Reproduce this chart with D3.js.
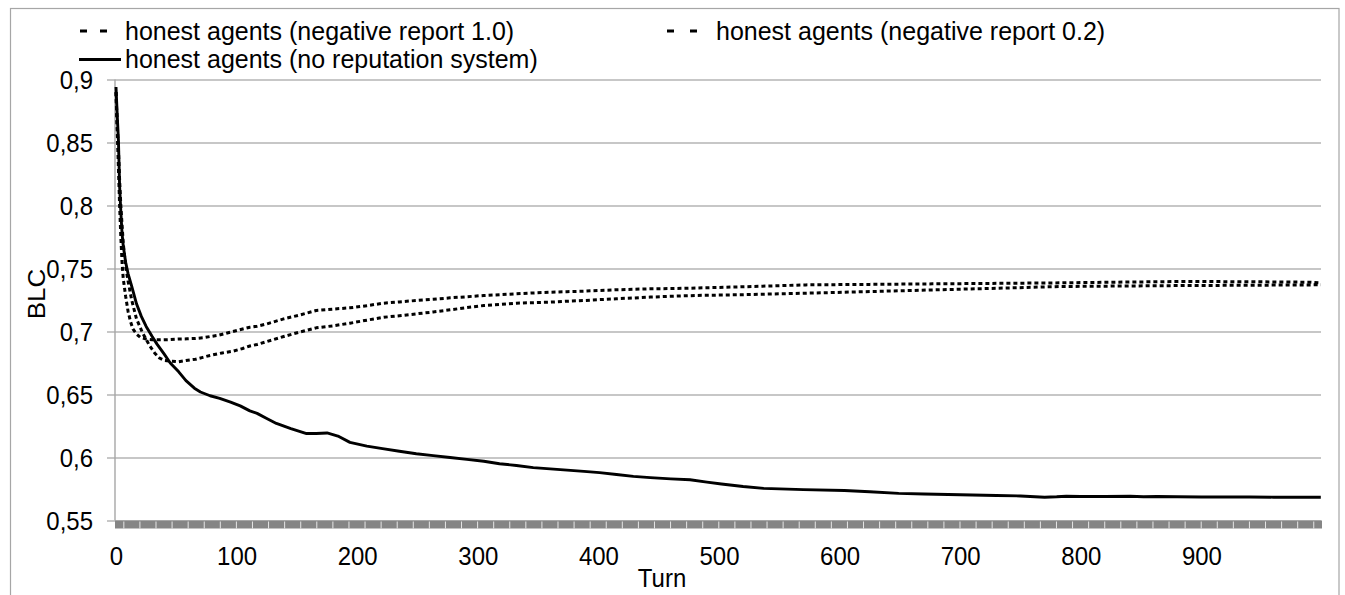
<!DOCTYPE html>
<html>
<head>
<meta charset="utf-8">
<script src="https://cdn.jsdelivr.net/npm/d3@7"></script>
<style>
  html, body { margin: 0; padding: 0; background: #fff; }
  svg text { font-family: "Liberation Sans", Arial, sans-serif; fill: #000; }
</style>
</head>
<body>
<svg id="chart" width="1345" height="595"></svg>
<script>
// ---------------- data ----------------
const yTicks = [0.55, 0.6, 0.65, 0.7, 0.75, 0.8, 0.85, 0.9];
const yTickLabels = ["0,55", "0,6", "0,65", "0,7", "0,75", "0,8", "0,85", "0,9"];
const xTicks = [0, 100, 200, 300, 400, 500, 600, 700, 800, 900];
const xTickLabels = ["0", "100", "200", "300", "400", "500", "600", "700", "800", "900"];

const seriesNames = [
  "honest agents (negative report 1.0)",
  "honest agents (negative report 0.2)",
  "honest agents (no reputation system)"
];

// honest agents (negative report 1.0)
const turnsA = [0,1,2,3,4,5,6,7,8,10,12,14,17,20,25,30,37,45,52,59,66,72,78,85,97,105,111,117,125,139,152,166,180,194,208,222,235,249,263,277,291,305,318,332,346,360,374,388,401,415,429,443,462,481,520,572,625,677,730,782,835,887,940,991,999];
const valuesA = [0.89,0.86,0.83,0.80,0.775,0.755,0.742,0.735,0.728,0.716,0.708,0.702,0.698,0.6955,0.694,0.6935,0.6934,0.6936,0.694,0.6942,0.6945,0.695,0.696,0.697,0.700,0.702,0.7034,0.7042,0.706,0.710,0.713,0.7167,0.7178,0.7188,0.7205,0.7225,0.7235,0.7246,0.7256,0.7267,0.7276,0.7286,0.7292,0.7299,0.7306,0.7312,0.7316,0.732,0.7326,0.7331,0.7335,0.7339,0.7341,0.7345,0.7355,0.737,0.7374,0.7378,0.7382,0.7386,0.7392,0.7397,0.7395,0.7391,0.7385];

// honest agents (negative report 0.2)
const turnsB = [0,1,2,3,4,5,6,8,10,13,17,22,28,32,36,40,45,52,58,66,72,78,88,97,105,111,117,125,139,152,166,180,194,208,222,235,249,263,277,291,305,318,332,346,360,374,388,401,415,429,443,462,481,520,572,625,677,730,782,835,887,940,991,999];
const valuesB = [0.89,0.865,0.845,0.82,0.80,0.785,0.77,0.752,0.74,0.725,0.71,0.699,0.6885,0.683,0.679,0.677,0.6765,0.676,0.677,0.678,0.6795,0.681,0.683,0.6844,0.6865,0.6885,0.6897,0.692,0.696,0.6995,0.7029,0.7045,0.7066,0.709,0.7113,0.7125,0.714,0.7155,0.7172,0.719,0.7206,0.7215,0.7225,0.7229,0.7233,0.724,0.7246,0.7253,0.726,0.7266,0.7273,0.728,0.7286,0.7292,0.7304,0.7317,0.733,0.7343,0.7357,0.7361,0.7365,0.7367,0.737,0.7372];

// honest agents (no reputation system)
const turnsC = [0,1,2,3,4,5,6,8,10,13,17,21,25,30,34,40,45,52,58,65,70,78,86,95,103,111,117,125,133,145,158,166,175,184,194,208,221,235,249,263,277,291,305,318,332,346,360,374,388,401,415,429,443,460,476,490,502,520,537,570,604,625,649,670,690,710,730,750,770,780,788,800,820,841,852,863,880,900,920,940,960,980,999];
const valuesC = [0.894,0.872,0.852,0.815,0.795,0.778,0.768,0.755,0.746,0.736,0.722,0.712,0.704,0.696,0.690,0.682,0.675,0.668,0.661,0.655,0.652,0.649,0.647,0.644,0.641,0.637,0.635,0.631,0.627,0.623,0.619,0.619,0.6195,0.617,0.612,0.609,0.607,0.605,0.603,0.6015,0.600,0.5985,0.597,0.595,0.5937,0.592,0.591,0.590,0.589,0.588,0.5865,0.585,0.584,0.583,0.5823,0.5805,0.579,0.577,0.5755,0.5745,0.5738,0.5728,0.5715,0.571,0.5706,0.5702,0.5698,0.5695,0.5685,0.5688,0.5693,0.569,0.569,0.5692,0.5688,0.569,0.5688,0.5687,0.5686,0.5686,0.5685,0.5685,0.5685];

// ---------------- layout ----------------
const W = 1345, H = 595;
const plot = { left: 116, right: 1322, top: 79.5, bottom: 520.5 };
const FONT = 24;
const LEGEND_FONT = 25;
const SY = 1.08; // vertical stretch of glyphs seen in the reference

const svg = d3.select("#chart");

// outer frame
svg.append("rect")
  .attr("x", 10.5).attr("y", 8.5)
  .attr("width", 1339 - 10.5).attr("height", H + 10)
  .attr("fill", "none").attr("stroke", "#a6a6a6").attr("stroke-width", 1.2);

const x = d3.scaleLinear().domain([0, 1000]).range([plot.left, plot.right]);
const y = d3.scaleLinear().domain([0.55, 0.9]).range([plot.bottom, plot.top]);

// gridlines + y ticks
const yAxis = d3.axisLeft(y)
  .tickValues(yTicks)
  .tickSize(-(plot.right - plot.left))
  .tickSizeOuter(0)
  .tickFormat((d, i) => yTickLabels[i]);

const gy = svg.append("g")
  .attr("transform", `translate(${plot.left - 1},0)`)
  .call(yAxis);
gy.select(".domain").remove();
gy.selectAll(".tick line")
  .attr("x1", -8)
  .attr("stroke", "#b4b4b4").attr("stroke-width", 1.4);
gy.selectAll(".tick text")
  .attr("x", -22).attr("y", 0).attr("dy", "0.33em")
  .attr("transform", `scale(1,${SY})`)
  .attr("font-size", FONT)
  .style("font-family", '"Liberation Sans", Arial, sans-serif')
  .attr("fill", "#000");

// y axis line
svg.append("line")
  .attr("x1", plot.left - 1).attr("x2", plot.left - 1)
  .attr("y1", plot.top).attr("y2", plot.bottom)
  .attr("stroke", "#a6a6a6").attr("stroke-width", 1.4);

// gray band at bottom of plot (dense category tick marks)
svg.append("rect")
  .attr("x", plot.left - 1).attr("y", plot.bottom)
  .attr("width", plot.right - plot.left + 1).attr("height", 8)
  .attr("fill", "#858585");
svg.append("g").selectAll("line")
  .data(d3.range(6.5, 1000, 40 / 3))
  .join("line")
  .attr("x1", d => x(d)).attr("x2", d => x(d))
  .attr("y1", plot.bottom + 1).attr("y2", plot.bottom + 8)
  .attr("stroke", "#e6e6e6").attr("stroke-width", 1);

// x axis labels
const xAxis = d3.axisBottom(x)
  .tickValues(xTicks)
  .tickSize(0)
  .tickFormat((d, i) => xTickLabels[i]);
const gx = svg.append("g")
  .attr("transform", `translate(0,${plot.bottom})`)
  .call(xAxis);
gx.select(".domain").remove();
gx.selectAll(".tick text")
  .attr("y", 0).attr("dy", 45 / SY)
  .attr("transform", `scale(1,${SY})`)
  .attr("font-size", FONT)
  .style("font-family", '"Liberation Sans", Arial, sans-serif')
  .attr("fill", "#000");

// axis titles
svg.append("text")
  .attr("transform", `translate(662,587) scale(1,${SY})`)
  .attr("text-anchor", "middle")
  .attr("font-size", FONT)
  .text("Turn");
svg.append("text")
  .attr("transform", `translate(45,294) rotate(-90) scale(${SY},1)`)
  .attr("text-anchor", "middle")
  .attr("font-size", FONT)
  .text("BLC");

// lines
const line = d3.line().x(d => x(d[0])).y(d => y(d[1]));
const seriesData = [
  { turns: turnsA, values: valuesA, dash: "4,3" },
  { turns: turnsB, values: valuesB, dash: "4,3" },
  { turns: turnsC, values: valuesC, dash: null }
];
seriesData.forEach(s => {
  const pts = s.turns.map((t, i) => [t, s.values[i]]);
  svg.append("path")
    .datum(pts)
    .attr("d", line)
    .attr("fill", "none")
    .attr("stroke", "#000")
    .attr("stroke-width", s.dash ? 3 : 2.9)
    .attr("stroke-linejoin", "round")
    .attr("stroke-dasharray", s.dash);
});

// legend
const legend = [
  { name: seriesNames[0], x1: 80, x2: 107, tx: 125, cy: 31, dash: "7,13" },
  { name: seriesNames[1], x1: 667, x2: 697, tx: 716, cy: 31, dash: "7,16" },
  { name: seriesNames[2], x1: 79, x2: 121, tx: 125, cy: 59.5, dash: null }
];
const lg = svg.append("g");
legend.forEach(l => {
  lg.append("line")
    .attr("x1", l.x1).attr("x2", l.x2)
    .attr("y1", l.cy).attr("y2", l.cy)
    .attr("stroke", "#000").attr("stroke-width", 3)
    .attr("stroke-dasharray", l.dash);
  lg.append("text")
    .attr("x", l.tx).attr("y", l.cy)
    .attr("dy", "0.35em")
    .attr("font-size", LEGEND_FONT)
    .text(l.name);
});
</script>
</body>
</html>
